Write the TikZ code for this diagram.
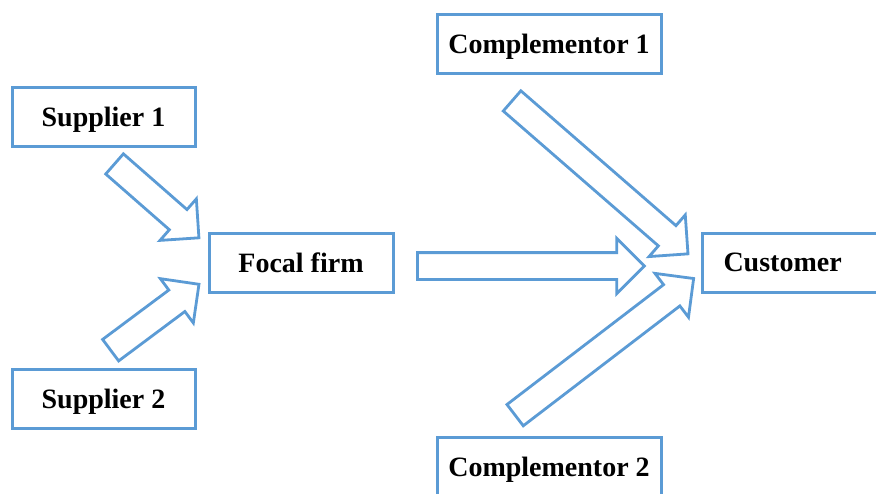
\documentclass[tikz,border=0pt]{standalone}
\usepackage{fontspec}
\setmainfont{Liberation Serif}
\usepackage{tikz}
\usetikzlibrary{calc,shapes.arrows}
\definecolor{edge}{HTML}{5B9BD5}

\begin{document}
\begin{tikzpicture}[x=0.5pt,y=-0.5pt,
  box/.style={draw=edge,line width=1.5pt,fill=white,minimum height=29.5pt,inner sep=0pt,text depth=0pt,font=\fontsize{14}{16}\selectfont\bfseries},
  blockarrow/.style={single arrow,draw=edge,line width=1.4pt,fill=white,inner xsep=0pt,inner ysep=6pt,single arrow head extend=7.1pt,anchor=tail}]
\path[use as bounding box,clip] (0,0) rectangle (876,493);
\node[box,minimum width=91.5pt] (sup1) at (103.5,117) {Supplier 1};
\node[box,minimum width=91.5pt] (sup2) at (103.5,398.5) {Supplier 2};
\node[box,minimum width=92pt] (focal) at (301,262.5) {Focal firm};
\node[box,minimum width=112pt] (comp1) at (549,44) {Complementor 1};
\node[box,minimum width=112pt] (comp2) at (549,466.5) {Complementor 2};
\node[box,anchor=west,text width=79pt,inner xsep=10.5pt,align=left] (cust) at (701,262.5) {Customer};
% arrow ends
\coordinate (s1t) at (113.5,163);  \coordinate (s1h) at (198,237);
\coordinate (s2t) at (109.5,351);  \coordinate (s2h) at (198,285);
\coordinate (ft) at (416,266);     \coordinate (fh) at (643,266);
\coordinate (c1t) at (511,100);    \coordinate (c1h) at (687,253);
\coordinate (c2t) at (514,416);    \coordinate (c2h) at (693,279);
\foreach \a/\b in {s1t/s1h,s2t/s2h,ft/fh,c1t/c1h,c2t/c2h}{
  \path let \p1=($(\b)-(\a)$),\n1={veclen(\x1,\y1)},\n2={atan2(\y1,\x1)} in
    node[blockarrow,minimum height=\n1,rotate=\n2] (arr-\a) at (\a) {};}
\end{tikzpicture}
\end{document}
